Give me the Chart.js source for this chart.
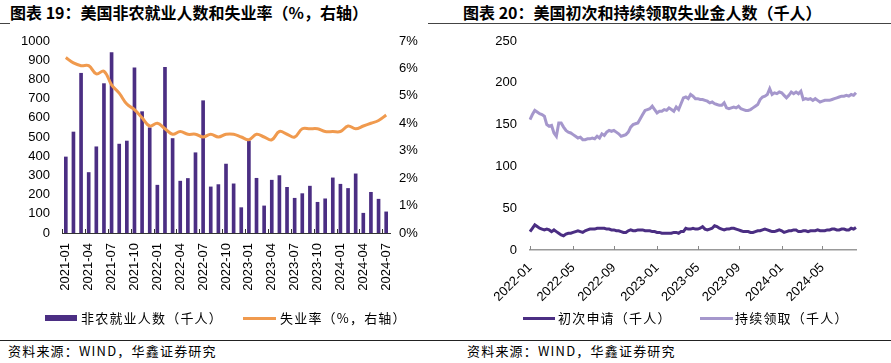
<!DOCTYPE html>
<html>
<head>
<meta charset="utf-8">
<script src="https://cdn.jsdelivr.net/npm/chart.js@4.4.1/dist/chart.umd.min.js"></script>
<style>
  body { margin:0; width:891px; height:363px; background:#fff; position:relative; overflow:hidden;
         font-family:"Noto Sans CJK SC", sans-serif; color:#000; }
  .title { position:absolute; top:3px; font-size:16px; line-height:18px; font-weight:bold; white-space:nowrap; background:#fff; }
  .rule { position:absolute; height:1px; background:#444; }
  .src { position:absolute; top:343px; font-size:13px; line-height:16px; letter-spacing:1.2px; white-space:nowrap; }
  .leg { position:absolute; top:310px; font-size:13px; line-height:16px; letter-spacing:1.2px; white-space:nowrap; }
  .key { position:absolute; }
  canvas { position:absolute; top:0; }
</style>
</head>
<body>

<div class="rule" style="left:0;top:23px;width:10px"></div>
<div class="rule" style="left:428px;top:23px;width:22px"></div>
<div class="rule" style="left:450px;top:23px;width:441px"></div>
<div class="title" style="left:10px">图表 19：美国非农就业人数和失业率（%，右轴）</div>
<div class="title" style="left:463px">图表 20：美国初次和持续领取失业金人数（千人）</div>

<canvas id="c1" width="450" height="300" style="left:0"></canvas>
<canvas id="c2" width="441" height="312" style="left:450px"></canvas>

<div class="key" style="left:45px;top:315px;width:32px;height:6px;background:#4b2e83"></div>
<div class="leg" style="left:81px">非农就业人数（千人）</div>
<div class="key" style="left:243px;top:317px;width:33px;height:3px;background:#f09a4e"></div>
<div class="leg" style="left:280px">失业率（%，右轴）</div>

<div class="key" style="left:523px;top:317px;width:32px;height:3px;background:#4b2e83"></div>
<div class="leg" style="left:558px">初次申请（千人）</div>
<div class="key" style="left:700px;top:317px;width:33px;height:3px;background:#a597cc"></div>
<div class="leg" style="left:735px">持续领取（千人）</div>

<div class="rule" style="left:0;top:340px;width:891px;background:#222"></div>
<div class="src" style="left:8px">资料来源：WIND，华鑫证券研究</div>
<div class="src" style="left:467px">资料来源：WIND，华鑫证券研究</div>

<script>
// ---- 图表19 数据 ----
const months = [
  "2021-01","2021-02","2021-03","2021-04","2021-05","2021-06","2021-07","2021-08","2021-09","2021-10","2021-11","2021-12",
  "2022-01","2022-02","2022-03","2022-04","2022-05","2022-06","2022-07","2022-08","2022-09","2022-10","2022-11","2022-12",
  "2023-01","2023-02","2023-03","2023-04","2023-05","2023-06","2023-07","2023-08","2023-09","2023-10","2023-11","2023-12",
  "2024-01","2024-02","2024-03","2024-04","2024-05","2024-06","2024-07"
];
// 非农就业人数（千人）
const payrolls = [
  396, 526, 832, 315, 449, 778, 940, 463, 479, 860, 632, 548,
  249, 863, 492, 270, 284, 418, 689, 240, 252, 359, 256, 132,
  480, 285, 141, 275, 299, 238, 181, 205, 244, 160, 178, 287,
  254, 232, 308, 103, 212, 176, 110
];
// 失业率（%）
const unemp = [
  6.4, 6.2, 6.1, 6.1, 5.8, 5.9, 5.4, 5.1, 4.7, 4.5, 4.2, 3.9,
  4.0, 3.8, 3.6, 3.7, 3.6, 3.6, 3.5, 3.6, 3.5, 3.6, 3.6, 3.5,
  3.4, 3.6, 3.5, 3.4, 3.7, 3.6, 3.5, 3.8, 3.8, 3.8, 3.7, 3.7,
  3.7, 3.9, 3.8, 3.9, 4.0, 4.1, 4.3
];

// ---- 图表20 数据（周度，自2022-01-01起） ----
const weekStart = "2022-01-01";
// 初次申请
const initialClaims = [
  22, 26, 30, 28, 26, 25, 24, 25, 24, 22, 24, 22, 20, 18, 17, 19, 20, 20, 21, 22,
  23, 22, 21, 23, 24, 25, 25, 25, 26, 26, 26, 26, 25, 25, 24, 24, 23, 23, 22, 21,
  21, 23, 24, 23, 23, 24, 24, 24, 23, 23, 23, 22, 22, 21, 21, 20, 20, 20, 20, 20,
  21, 21, 20, 22, 22, 26, 25, 25, 26, 25, 25, 26, 28, 25, 24, 25, 26, 29, 28, 26,
  25, 24, 25, 25, 26, 26, 25, 24, 23, 22, 22, 22, 21, 21, 22, 23, 23, 24, 25, 24,
  23, 22, 22, 23, 24, 23, 21, 22, 23, 23, 24, 24, 22, 22, 23, 23, 22, 23, 23, 23,
  24, 23, 23, 23, 24, 24, 25, 25, 24, 24, 25, 25, 24, 24, 26, 25, 27
];
// 持续领取
const continuingClaims = [
  156, 162, 167, 165, 163, 162, 160, 150, 148, 149, 140, 136, 152, 152, 147, 143, 141, 140, 138, 136,
  134, 135, 132, 132, 133, 133, 134, 133, 136, 134, 139, 137, 141, 143, 142, 143, 141, 139, 136, 137,
  138, 141, 147, 150, 151, 152, 157, 162, 167, 168, 169, 172, 168, 164, 166, 166, 168, 167, 170, 168,
  166, 171, 168, 175, 182, 183, 181, 186, 184, 181, 181, 180, 180, 179, 178, 176, 177, 175, 174, 173,
  173, 176, 170, 169, 170, 171, 170, 172, 169, 168, 167, 167, 168, 170, 172, 174, 180, 183, 184, 186,
  193, 186, 188, 187, 189, 188, 185, 182, 185, 189, 187, 189, 187, 190, 180, 181, 180, 181, 179, 181,
  179, 177, 178, 179, 179, 179, 180, 181, 182, 183, 184, 184, 185, 184, 186, 185, 188
];

const PURPLE = "#4b2e83";
const ORANGE = "#f09a4e";
const LAVENDER = "#a597cc";
const axisFont = { family: "'Liberation Sans', Arial, sans-serif", size: 13 };

// 周度日期标签
const weeks = initialClaims.map((_, i) => {
  const d = new Date(weekStart + "T00:00:00Z");
  d.setUTCDate(d.getUTCDate() + 7 * i);
  return d.toISOString().slice(0, 10);
});
const weekTick = i => {
  const m = weeks[i].slice(5, 7);
  const first = i === 0 || weeks[i - 1].slice(5, 7) !== m;
  return first && ["01", "05", "09"].includes(m);
};

// 坐标轴内侧刻度线
const innerTicks = {
  id: "innerTicks",
  afterDraw(chart, args, opts) {
    const xs = chart.scales.x;
    const ctx = chart.ctx;
    ctx.save();
    ctx.strokeStyle = opts.color;
    ctx.lineWidth = 1;
    opts.positions(xs).forEach(px => {
      ctx.beginPath();
      ctx.moveTo(Math.round(px) + 0.5, xs.top);
      ctx.lineTo(Math.round(px) + 0.5, xs.top - 4);
      ctx.stroke();
    });
    ctx.restore();
  }
};

new Chart(document.getElementById("c1"), {
  data: {
    labels: months,
    datasets: [
      { type: "line", label: "失业率（%，右轴）", data: unemp, yAxisID: "y1",
        borderColor: ORANGE, borderWidth: 3, pointRadius: 0, tension: 0.4, order: 0 },
      { type: "bar", label: "非农就业人数（千人）", data: payrolls, yAxisID: "y",
        backgroundColor: PURPLE, barThickness: 3, order: 1 }
    ]
  },
  options: {
    responsive: false,
    animation: false,
    layout: { padding: { top: 41, left: 0, right: 0, bottom: 0 } },
    plugins: {
      legend: { display: false },
      tooltip: { enabled: false },
      innerTicks: {
        color: "#333",
        positions: xs => {
          const half = (xs.getPixelForTick(1) - xs.getPixelForTick(0)) / 2;
          const out = [];
          for (let i = 0; i < months.length; i += 3) out.push(xs.getPixelForTick(i) - half);
          return out;
        }
      }
    },
    scales: {
      x: {
        grid: { display: false, drawTicks: false },
        border: { display: true, color: "#333", width: 1 },
        ticks: { autoSkip: false, minRotation: 90, maxRotation: 90, padding: 10, color: "#000", font: axisFont,
                 callback: (v, i) => i % 3 === 0 ? months[i] : "" },
        afterFit: s => { s.height = 67; }
      },
      y: {
        position: "left", min: 0, max: 1000,
        grid: { display: false, drawTicks: false },
        border: { display: false },
        ticks: { stepSize: 100, padding: 12, color: "#000", font: axisFont, callback: v => String(v) },
        afterFit: s => { s.width = 62; }
      },
      y1: {
        position: "right", min: 0, max: 7,
        grid: { display: false, drawTicks: false },
        border: { display: false },
        ticks: { stepSize: 1, padding: 9, color: "#000", font: axisFont, callback: v => v + "%" },
        afterFit: s => { s.width = 60; }
      }
    }
  },
  plugins: [innerTicks]
});

new Chart(document.getElementById("c2"), {
  type: "line",
  data: {
    labels: weeks,
    datasets: [
      { label: "初次申请（千人）", data: initialClaims, borderColor: PURPLE, borderWidth: 3, pointRadius: 0, tension: 0 },
      { label: "持续领取（千人）", data: continuingClaims, borderColor: LAVENDER, borderWidth: 3, pointRadius: 0, tension: 0 }
    ]
  },
  options: {
    responsive: false,
    animation: false,
    layout: { padding: { top: 41, left: 0, right: 35, bottom: 0 } },
    plugins: {
      legend: { display: false },
      tooltip: { enabled: false },
      innerTicks: {
        color: "#888",
        positions: xs => weeks.map((w, i) => i).filter(weekTick).map(i => xs.getPixelForTick(i))
      }
    },
    scales: {
      x: {
        grid: { display: false, drawTicks: false },
        border: { display: true, color: "#999", width: 1.5 },
        ticks: { autoSkip: false, minRotation: 45, maxRotation: 45, padding: 10, color: "#000", font: axisFont,
                 callback: (v, i) => weekTick(i) ? weeks[i].slice(0, 7) : "" },
        afterFit: s => { s.height = 62; }
      },
      y: {
        min: 0, max: 250,
        grid: { display: false, drawTicks: false },
        border: { display: false },
        ticks: { stepSize: 50, padding: 13, color: "#000", font: axisFont },
        afterFit: s => { s.width = 80; }
      }
    }
  },
  plugins: [innerTicks]
});
</script>
</body>
</html>
